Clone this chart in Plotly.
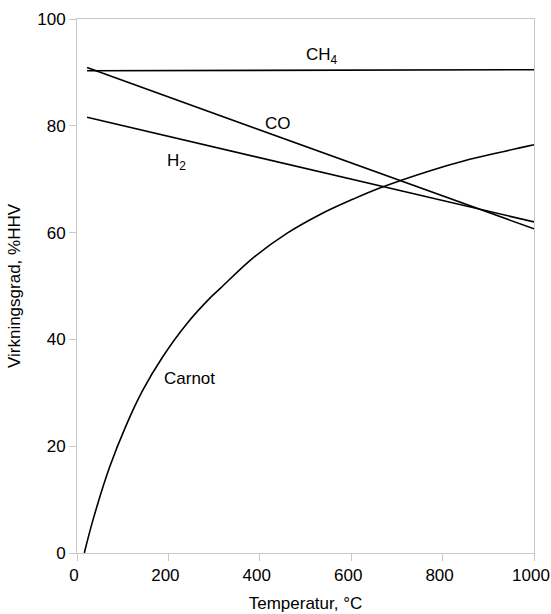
import plotly.graph_objects as go

# Data
lin_x = [22, 1000]
ch4_y = [90.3, 90.5]
co_y = [90.9, 60.7]
h2_y = [81.6, 62.0]

carnot_x = [16, 35, 71, 108, 144, 188, 239, 294, 314, 386, 460, 532, 605, 664, 773, 846, 919, 1000]
carnot_y = [0, 6.2, 16.0, 24.0, 30.5, 36.8, 42.8, 48.0, 49.6, 55.3, 59.9, 63.4, 66.3, 68.4, 71.6, 73.4, 74.9, 76.45]

labels = ["CH<sub>4</sub>", "CO", "H<sub>2</sub>", "Carnot"]
label_x = [536, 439, 218, 247]
label_y = [93.0, 80.4, 73.3, 32.7]

x_ticks = [0, 200, 400, 600, 800, 1000]
y_ticks = [0, 20, 40, 60, 80, 100]

FONT = "Liberation Sans, Arial"

fig = go.Figure()
line = dict(color="black", width=1.6)
fig.add_trace(go.Scatter(x=lin_x, y=ch4_y, mode="lines", line=line, showlegend=False))
fig.add_trace(go.Scatter(x=lin_x, y=co_y, mode="lines", line=line, showlegend=False))
fig.add_trace(go.Scatter(x=lin_x, y=h2_y, mode="lines", line=line, showlegend=False))
fig.add_trace(go.Scatter(x=carnot_x, y=carnot_y, mode="lines",
                         line=dict(color="black", width=1.6, shape="spline", smoothing=1),
                         showlegend=False))

for t, x, y in zip(labels, label_x, label_y):
    fig.add_annotation(x=x, y=y, text=t, showarrow=False,
                       font=dict(family=FONT, size=17, color="black"))

axis_common = dict(showgrid=False, zeroline=False, showline=True, linecolor="#c8c8c8", linewidth=1,
                   mirror=True, ticks="outside", tickcolor="#c8c8c8", ticklen=7, tickwidth=1,
                   ticklabeloverflow="allow",
                   tickfont=dict(family=FONT, size=17, color="black"))

fig.update_xaxes(range=[0, 1000], tickvals=x_ticks, ticklabelshift=-3, **axis_common,
                 title=dict(text="Temperatur, °C", font=dict(family=FONT, size=17, color="black"), standoff=12))
fig.update_yaxes(range=[0, 100], tickvals=y_ticks, **axis_common,
                 title=dict(text="Virkningsgrad, %HHV", font=dict(family=FONT, size=17, color="black"), standoff=12))

fig.update_layout(width=551, height=614, margin=dict(l=77, r=17, t=19, b=61, autoexpand=False),
                  plot_bgcolor="white", paper_bgcolor="white")

fig.write_html("out.html", config={"displayModeBar": False},
               post_script="document.body.style.margin='0';document.body.style.overflow='hidden';")
